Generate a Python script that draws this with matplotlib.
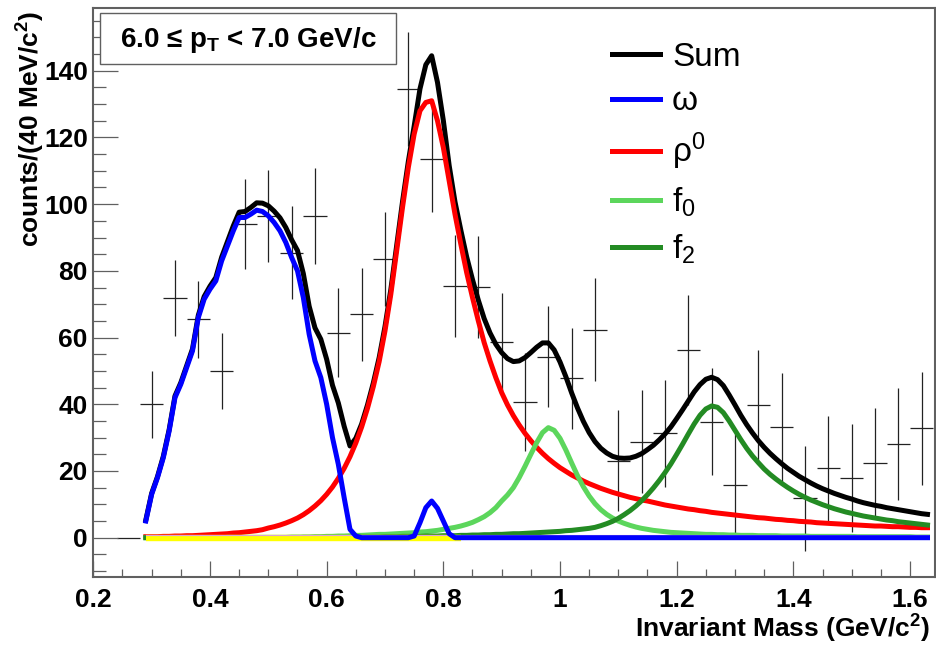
import numpy as np
import matplotlib
matplotlib.use("Agg")
import matplotlib.pyplot as plt
from matplotlib.patches import Rectangle
from matplotlib.ticker import MultipleLocator, FuncFormatter

plt.rcParams['font.family'] = ['Liberation Sans', 'DejaVu Sans']
plt.rcParams['mathtext.fontset'] = 'custom'
plt.rcParams['mathtext.rm'] = 'Liberation Sans'
plt.rcParams['mathtext.it'] = 'Liberation Sans:italic'
plt.rcParams['mathtext.bf'] = 'Liberation Sans:bold'

# ---- measured spectrum (40 MeV/c^2 bins) ----
bin_centers = [0.26, 0.30, 0.34, 0.38, 0.42, 0.46, 0.50, 0.54, 0.58, 0.62,
               0.66, 0.70, 0.74, 0.78, 0.82, 0.86, 0.90, 0.94, 0.98, 1.02,
               1.06, 1.10, 1.14, 1.18, 1.22, 1.26, 1.30, 1.34, 1.38, 1.42,
               1.46, 1.50, 1.54, 1.58, 1.62]
counts = [0.0, 40.0, 72.0, 65.5, 50.0, 94.0, 96.5, 85.5, 96.5, 61.5,
          67.0, 83.5, 134.5, 113.5, 75.5, 75.2, 58.6, 40.6, 54.3, 47.8,
          62.4, 23.1, 28.8, 31.3, 56.3, 34.8, 15.8, 39.8, 33.1, 11.8,
          20.8, 17.8, 22.3, 28.1, 32.8]
count_err = [0.0, 10.0, 11.4, 11.5, 11.4, 13.4, 13.8, 14.0, 14.4, 13.3,
             14.0, 14.0, 17.0, 16.0, 15.2, 15.4, 14.7, 14.7, 15.2, 15.2,
             15.5, 15.2, 15.4, 16.0, 16.5, 16.0, 15.3, 16.5, 16.3, 15.8,
             15.7, 16.2, 16.5, 16.8, 17.0]
bin_half_width = 0.02

# ---- fit components, sampled every 10 MeV/c^2 from 0.29 to 1.63 ----
mass = np.round(np.arange(0.29, 1.6301, 0.01), 2)

omega = [5.0,
         13.0, 18.0, 24.0, 32.0, 42.0, 46.0, 51.0, 56.0, 66.0, 71.5,
         74.5, 77.0, 83.0, 87.5, 92.0, 96.0, 96.0, 97.0, 98.2, 97.8,
         96.5, 94.5, 92.0, 88.5, 84.0, 80.0, 72.0, 61.0, 53.0, 48.0,
         40.0, 30.0, 22.0, 12.0, 2.5, 0.5, 0.0, 0.0, 0.0, 0.0,
         0.0, 0.0, 0.0, 0.0, 0.0, 0.5, 4.5, 9.0, 11.0, 8.8,
         5.0, 1.2, 0.0, 0.0, 0.0, 0.0, 0.0, 0.0, 0.0, 0.0,
         0.0, 0.0, 0.0, 0.0, 0.0, 0.0, 0.0, 0.0, 0.0, 0.0,
         0.0, 0.0, 0.0, 0.0, 0.0, 0.0, 0.0, 0.0, 0.0, 0.0,
         0.0, 0.0, 0.0, 0.0, 0.0, 0.0, 0.0, 0.0, 0.0, 0.0,
         0.0, 0.0, 0.0, 0.0, 0.0, 0.0, 0.0, 0.0, 0.0, 0.0,
         0.0, 0.0, 0.0, 0.0, 0.0, 0.0, 0.0, 0.0, 0.0, 0.0,
         0.0, 0.0, 0.0, 0.0, 0.0, 0.0, 0.0, 0.0, 0.0, 0.0,
         0.0, 0.0, 0.0, 0.0, 0.0, 0.0, 0.0, 0.0, 0.0, 0.0,
         0.0, 0.0, 0.0, 0.0]

rho0 = [0.3,
        0.3, 0.3, 0.4, 0.4, 0.5, 0.5, 0.6, 0.6, 0.7, 0.8,
        0.9, 1.0, 1.1, 1.2, 1.4, 1.5, 1.7, 1.9, 2.1, 2.4,
        2.9, 3.3, 3.8, 4.4, 5.1, 5.9, 6.9, 8.1, 9.5, 11.1,
        13.0, 15.2, 17.8, 20.8, 24.3, 28.4, 33.2, 38.8, 45.3, 52.8,
        62.0, 73.0, 86.0, 99.0, 111.0, 121.0, 128.0, 130.5, 131.0, 125.0,
        117.0, 107.0, 97.0, 88.0, 79.5, 72.0, 65.0, 58.5, 53.0, 48.0,
        43.5, 39.8, 36.6, 33.8, 31.3, 29.1, 27.1, 25.3, 23.7, 22.3,
        21.0, 19.9, 18.8, 17.9, 17.0, 16.2, 15.5, 14.8, 14.2, 13.6,
        13.1, 12.6, 12.1, 11.7, 11.3, 11.0, 10.6, 10.2, 9.8, 9.5,
        9.2, 8.9, 8.6, 8.4, 8.1, 7.9, 7.6, 7.4, 7.2, 7.0,
        6.8, 6.6, 6.4, 6.2, 6.0, 5.9, 5.7, 5.5, 5.4, 5.2,
        5.1, 4.9, 4.8, 4.7, 4.5, 4.4, 4.3, 4.2, 4.1, 4.0,
        3.9, 3.8, 3.7, 3.6, 3.5, 3.5, 3.4, 3.3, 3.3, 3.2,
        3.1, 3.1, 3.0, 3.0]

f0 = [0.0,
      0.0, 0.0, 0.0, 0.0, 0.0, 0.0, 0.0, 0.0, 0.0, 0.0,
      0.0, 0.0, 0.0, 0.1, 0.1, 0.1, 0.1, 0.1, 0.1, 0.1,
      0.1, 0.1, 0.1, 0.1, 0.2, 0.2, 0.2, 0.2, 0.3, 0.3,
      0.4, 0.4, 0.5, 0.5, 0.6, 0.7, 0.7, 0.8, 0.9, 1.0,
      1.0, 1.1, 1.2, 1.3, 1.4, 1.5, 1.7, 1.8, 2.0, 2.2,
      2.5, 2.8, 3.1, 3.5, 4.0, 4.6, 5.4, 6.3, 7.5, 9.0,
      11.0, 12.8, 15.0, 18.0, 21.4, 25.0, 28.5, 31.5, 33.0, 32.2,
      29.8, 26.3, 22.4, 18.6, 15.3, 12.5, 10.2, 8.4, 7.0, 5.9,
      5.0, 4.3, 3.7, 3.2, 2.8, 2.5, 2.2, 2.0, 1.8, 1.6,
      1.5, 1.4, 1.3, 1.2, 1.1, 1.0, 1.0, 0.9, 0.9, 0.8,
      0.8, 0.7, 0.7, 0.7, 0.6, 0.6, 0.6, 0.6, 0.5, 0.5,
      0.5, 0.5, 0.5, 0.4, 0.4, 0.4, 0.4, 0.4, 0.4, 0.4,
      0.4, 0.3, 0.3, 0.3, 0.3, 0.3, 0.3, 0.3, 0.3, 0.3,
      0.3, 0.2, 0.2, 0.2]

f2 = [0.0,
      0.0, 0.0, 0.0, 0.0, 0.0, 0.0, 0.0, 0.0, 0.0, 0.0,
      0.0, 0.0, 0.0, 0.0, 0.0, 0.0, 0.0, 0.0, 0.0, 0.0,
      0.0, 0.0, 0.0, 0.0, 0.0, 0.0, 0.1, 0.1, 0.1, 0.1,
      0.1, 0.1, 0.1, 0.1, 0.1, 0.2, 0.2, 0.2, 0.2, 0.2,
      0.3, 0.3, 0.3, 0.4, 0.4, 0.4, 0.4, 0.5, 0.5, 0.5,
      0.6, 0.6, 0.6, 0.7, 0.7, 0.8, 0.8, 0.9, 0.9, 1.0,
      1.0, 1.1, 1.2, 1.2, 1.3, 1.4, 1.5, 1.6, 1.7, 1.8,
      1.9, 2.1, 2.2, 2.4, 2.6, 2.8, 3.1, 3.6, 4.2, 4.9,
      5.8, 6.9, 8.1, 9.5, 11.1, 12.9, 14.9, 17.1, 19.5, 22.1,
      25.0, 28.0, 31.1, 34.1, 36.7, 38.6, 39.5, 39.1, 37.5, 35.0,
      32.2, 29.4, 26.8, 24.5, 22.5, 20.6, 19.0, 17.6, 16.3, 15.1,
      14.0, 13.0, 12.1, 11.3, 10.6, 9.9, 9.3, 8.7, 8.2, 7.7,
      7.3, 6.9, 6.5, 6.2, 5.9, 5.6, 5.3, 5.1, 4.8, 4.6,
      4.4, 4.2, 4.0, 3.8]

# flat background pieces of the fit
bkg_low_range = [0.29, 0.83]
bkg_low_level = [0.0, 0.0]
bkg_full_level = [0.8, 0.8]

for comp in (omega, rho0, f0, f2):
    assert len(comp) == len(mass)

total = np.array(omega) + np.array(rho0) + np.array(f0) + np.array(f2)

# ---- figure ----
fig = plt.figure(figsize=(9.36, 6.48), dpi=100)
ax = fig.add_axes([0.0997, 0.1100, 0.8987, 0.8776])

frame_col = '#606060'
lw_curve = 3.6

ax.errorbar(bin_centers, counts, xerr=bin_half_width, yerr=count_err,
            fmt='none', ecolor='#222222', elinewidth=0.9, capsize=0, zorder=1)

l_sum, = ax.plot(mass, total, color='black', lw=lw_curve, zorder=3)
l_rho, = ax.plot(mass, rho0, color='#ff0000', lw=lw_curve, zorder=4)
l_f0, = ax.plot(mass, f0, color='#5cd65c', lw=lw_curve, zorder=4.2)
l_f2, = ax.plot(mass, f2, color='#238b23', lw=lw_curve, zorder=4.4)
ax.plot(bkg_low_range, bkg_low_level, color='#ffff00', lw=4.6,
        solid_capstyle='butt', zorder=4.6)
ax.plot([mass[0], mass[-1]], bkg_full_level, color='#d9a0dc', lw=0.8, zorder=4.7)
l_om, = ax.plot(mass, omega, color='#0000ff', lw=lw_curve, zorder=5)

ax.set_xlim(0.2, 1.642)
ax.set_ylim(-11.7, 158.8)

ax.xaxis.set_major_locator(MultipleLocator(0.2))
ax.xaxis.set_minor_locator(MultipleLocator(0.05))
ax.yaxis.set_major_locator(MultipleLocator(20))
ax.yaxis.set_minor_locator(MultipleLocator(5))
ax.xaxis.set_major_formatter(FuncFormatter(lambda v, p: f"{v:g}"))
ax.yaxis.set_major_formatter(FuncFormatter(lambda v, p: f"{v:g}"))

ax.tick_params(axis='both', which='both', direction='in', color=frame_col,
               top=False, right=False, width=0.9)
ax.tick_params(axis='x', which='major', length=11.5, pad=8)
ax.tick_params(axis='x', which='minor', length=5.8)
ax.tick_params(axis='y', which='major', length=18, pad=4)
ax.tick_params(axis='y', which='minor', length=9)
for lab in ax.get_xticklabels() + ax.get_yticklabels():
    lab.set_fontsize(19)
    lab.set_fontweight('bold')

for sp in ax.spines.values():
    sp.set_color(frame_col)
    sp.set_linewidth(1.5)

ax.set_xlabel('Invariant Mass (GeV/c$^{\\mathbf{2}}$)', fontsize=19,
              fontweight='bold', loc='right')
ax.xaxis.set_label_coords(0.995, -0.064)
ax.set_ylabel('counts/(40 MeV/c$^{\\mathbf{2}}$)', fontsize=19,
              fontweight='bold', loc='top')
ax.yaxis.set_label_coords(-0.055, 0.995)

# kinematic selection box
ax.add_patch(Rectangle((0.008, 0.9016), 0.352, 0.0895, transform=ax.transAxes,
                       facecolor='white', edgecolor=frame_col, lw=1.0, zorder=6))
ax.text(0.184, 0.944, '6.0 \u2264 p$_{\\mathbf{T}}$ < 7.0 GeV/c',
        transform=ax.transAxes, ha='center', va='center', fontsize=20,
        fontweight='bold', zorder=7)

ax.legend([l_sum, l_om, l_rho, l_f0, l_f2],
          ['Sum', '\u03c9', '\u03c1$^{0}$', 'f$_{0}$', 'f$_{2}$'],
          loc='upper left', bbox_to_anchor=(0.6166, 0.94), frameon=False,
          fontsize=24, handlelength=1.45, handletextpad=0.35,
          labelspacing=0.4, borderpad=0, borderaxespad=0)

fig.savefig('out.png', dpi=100)
